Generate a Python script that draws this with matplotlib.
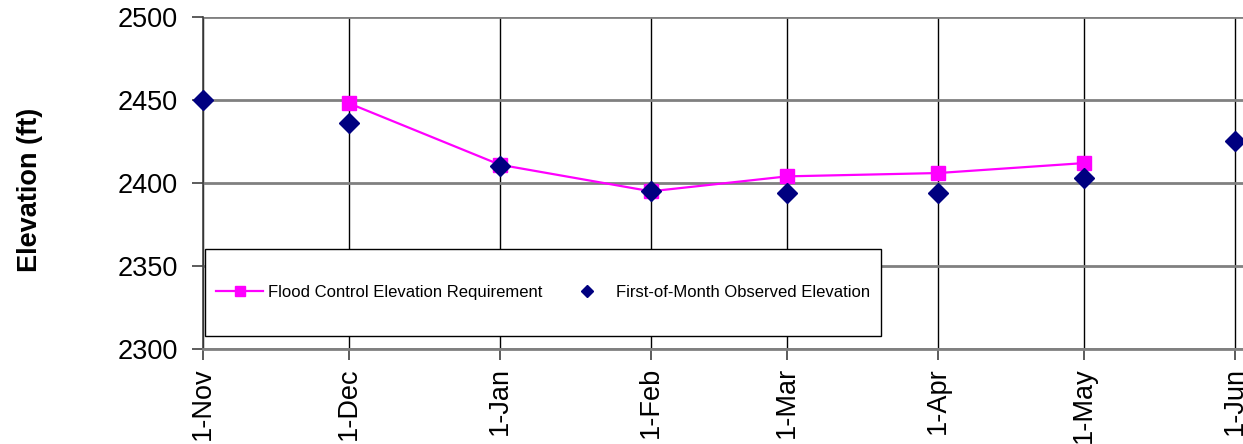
import datetime as dt
import matplotlib
matplotlib.use("Agg")
import matplotlib.pyplot as plt
from matplotlib.lines import Line2D
from matplotlib.patches import Rectangle

plt.rcParams['font.family'] = ['Liberation Sans', 'DejaVu Sans']

# first-of-month dates (Nov -> Jun)
obs_dates = [dt.date(2004, 11, 1), dt.date(2004, 12, 1), dt.date(2005, 1, 1),
             dt.date(2005, 2, 1), dt.date(2005, 3, 1), dt.date(2005, 4, 1),
             dt.date(2005, 5, 1), dt.date(2005, 6, 1)]
obs_elev = [2450, 2436, 2410, 2395, 2394, 2394, 2403, 2425]

flood_dates = obs_dates[1:7]
flood_elev = [2448, 2411, 2395, 2404, 2406, 2412]

tick_labels = ['1-Nov', '1-Dec', '1-Jan', '1-Feb', '1-Mar', '1-Apr', '1-May', '1-Jun']

fig = plt.figure(figsize=(12.43, 4.44), dpi=100)
ax = fig.add_axes([203 / 1243, 95 / 444, 1178 / 1243, 332 / 444])

ax.plot(flood_dates, flood_elev, color='#ff00ff', lw=1.6, marker='s',
        markersize=9.5, zorder=3)
ax.plot(obs_dates, obs_elev, ls='none', marker='D', color='#000080',
        markersize=10, zorder=4, clip_on=False)

ax.set_xlim(dt.date(2004, 11, 1), dt.date(2005, 7, 1))
ax.set_ylim(2300, 2500)
ax.set_yticks([2300, 2350, 2400, 2450, 2500])
ax.set_xticks(obs_dates)
ax.set_xticklabels(tick_labels, rotation=90)
ax.tick_params(axis='both', labelsize=19.5, direction='out', length=8,
               width=1.2, color='#404040')
ax.tick_params(axis='y', pad=10)
ax.tick_params(axis='x', pad=5)

ax.grid(axis='y', color='#808080', lw=2)
ax.grid(axis='x', color='black', lw=1)
ax.set_axisbelow(True)
for s in ['top', 'right']:
    ax.spines[s].set_visible(False)
ax.spines['left'].set_color('#404040')
ax.spines['left'].set_linewidth(1.2)
ax.spines['bottom'].set_color('#808080')
ax.spines['bottom'].set_linewidth(2)

ax.set_ylabel('Elevation (ft)', fontsize=19.5, fontweight='bold')
ax.yaxis.set_label_coords(-0.136, 0.48)

# legend box
box = Rectangle((0.0017, 0.039), 0.574, 0.262, transform=ax.transAxes,
                facecolor='white', edgecolor='black', lw=1, zorder=5)
ax.add_patch(box)
handles = [Line2D([], [], color='#ff00ff', lw=1.6, marker='s', markersize=7),
           Line2D([], [], ls='none', color='#000080', marker='D', markersize=6)]
leg = ax.legend(handles, ['Flood Control Elevation Requirement',
                          'First-of-Month Observed Elevation'],
                loc='center', bbox_to_anchor=(0.0017 + 0.287, 0.039 + 0.131),
                ncol=2, frameon=False, fontsize=12, handlelength=2.8,
                handletextpad=0.3, columnspacing=1.3)
leg.set_zorder(6)

fig.savefig('out.png', dpi=100)
